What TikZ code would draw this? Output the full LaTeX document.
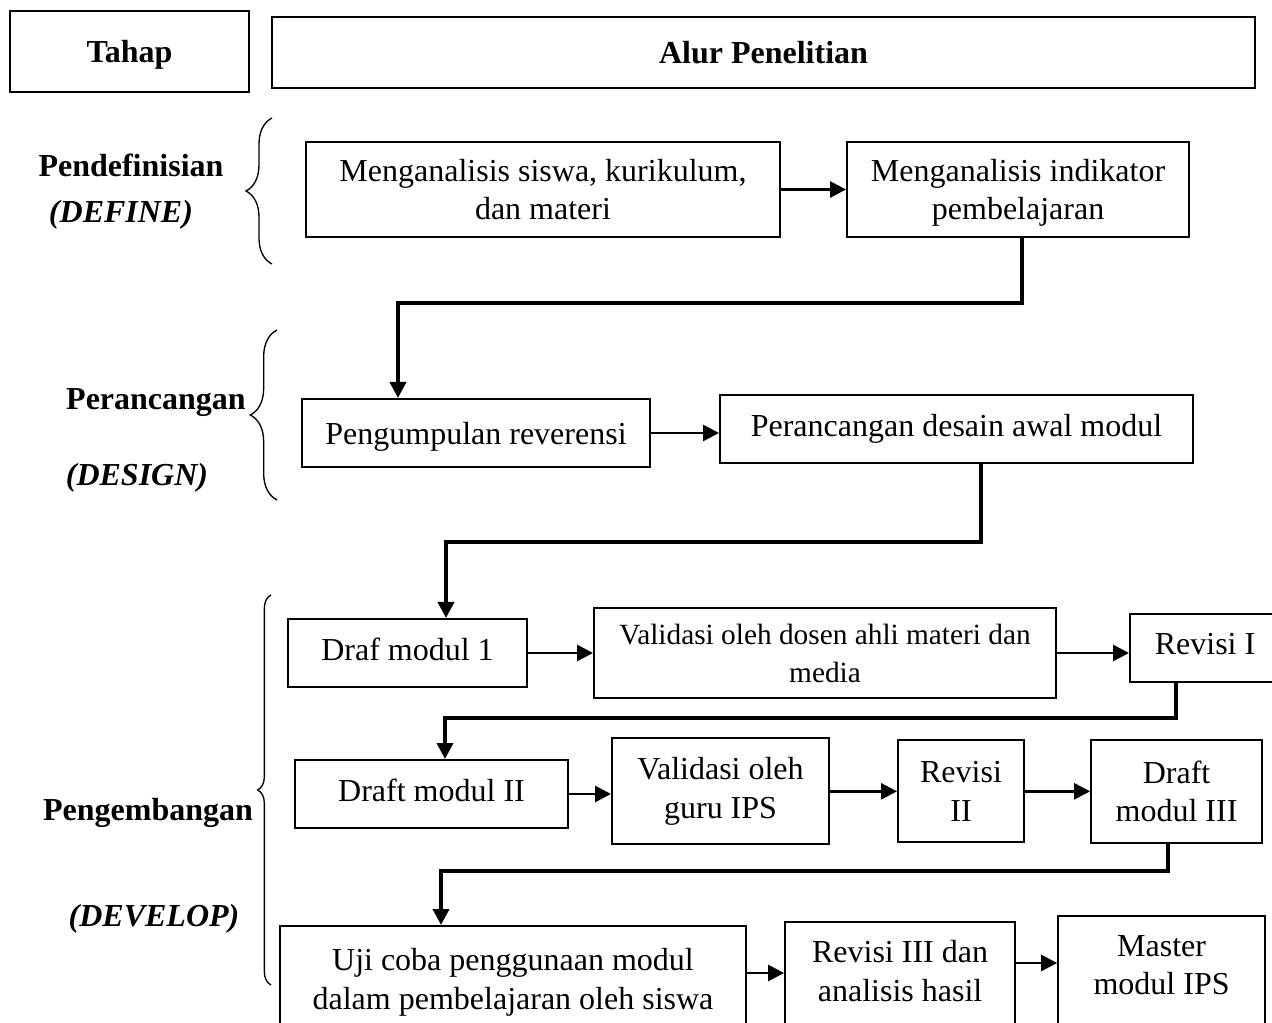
\documentclass[tikz,border=0pt]{standalone}
\usepackage{fontspec}
\setmainfont{Liberation Serif}
\usetikzlibrary{positioning,arrows.meta,calc,decorations.pathreplacing}

\begin{document}
\begin{tikzpicture}[
    x=0.375pt,y=-0.375pt,
    font=\fontsize{12}{14.5}\selectfont,
    box/.style={draw,line width=0.75pt,align=center,inner sep=2pt,text depth=0pt},
    lift/.style={text depth=2.7pt},
    head/.style={box,font=\fontsize{12}{14.5}\selectfont\bfseries},
    phase/.style={font=\fontsize{12}{14.5}\selectfont\bfseries,align=center},
    flow/.style={-{Triangle[length=6pt,width=6pt]},line width=1pt},
    elbow/.style={-{Triangle[length=6pt,width=6pt]},line width=1.4pt},
    brc/.style={decorate,decoration={brace,amplitude=#1},line width=0.5pt},
    brc/.default=9.75pt,
]
\useasboundingbox (0,0) rectangle (1272,1023);
\clip (0,0) rectangle (1272,1023);

% --- header ---
\node[head,minimum width=89.6pt,minimum height=30.4pt] (tahap) at (129.5,51.5) {Tahap};
\node[head,minimum width=368.6pt,minimum height=26.6pt] (alur) at (763.5,52.5) {Alur Penelitian};

% --- define ---
\node[box,minimum width=177.75pt,minimum height=35.6pt] (an1) at (543,189.5) {Menganalisis siswa, kurikulum,\\dan materi};
\node[box,minimum width=128.25pt,minimum height=35.6pt,right=24.4pt of an1] (an2) {Menganalisis indikator\\pembelajaran};

% --- design ---
\node[box,minimum width=130.5pt,minimum height=25.5pt] (ref) at (476,433) {Pengumpulan reverensi};
\node[box,lift,minimum width=177.4pt,minimum height=25.5pt,right=25.5pt of ref,yshift=1.5pt] (des) {Perancangan desain awal modul};

% --- develop ---
\node[box,lift,minimum width=89.6pt,minimum height=25.5pt] (dm1) at (407.5,653) {Draf modul 1};
\node[box,minimum width=173.25pt,minimum height=33.4pt,right=24.4pt of dm1,text depth=-3pt,
      font=\fontsize{11}{14.3}\selectfont] (val1) {Validasi oleh dosen ahli materi dan\\media};
\node[box,lift,minimum width=56.25pt,minimum height=25.5pt,right=27pt of val1,yshift=2pt] (rev1) {Revisi I};

\node[box,lift,minimum width=102.4pt,minimum height=25.5pt] (dm2) at (431.5,794) {Draft modul II};
\node[box,lift,minimum width=81.4pt,minimum height=39.75pt,right=15.75pt of dm2,yshift=1pt] (val2) {Validasi oleh\\guru IPS};
\node[box,minimum width=47.25pt,minimum height=38.25pt,right=25.1pt of val2] (rev2) {Revisi\\II};
\node[box,minimum width=64.1pt,minimum height=38.6pt,right=24.4pt of rev2] (dm3) {Draft\\modul III};

\node[box,minimum width=174.75pt,minimum height=39.75pt] (uji) at (513,979) {Uji coba penggunaan modul\\dalam pembelajaran oleh siswa};
\node[box,minimum width=86.25pt,minimum height=42.75pt,text depth=6pt,right=13.9pt of uji] (rev3) {Revisi III dan\\analisis hasil};
\node[box,minimum width=77.6pt,minimum height=45pt,text depth=8.25pt,right=15.4pt of rev3,yshift=1.1pt] (mst) {Master\\modul IPS};

% phase labels
\node[phase] (p1)  at (131,165) {Pendefinisian};
\node[phase] (p1e) at (121,215) {\itshape(DEFINE)};
\node[phase] (p2)  at (156,403) {Perancangan};
\node[phase] (p2e) at (137,478) {\itshape(DESIGN)};
\node[phase] (p3)  at (148,813) {Pengembangan};
\node[phase] (p3e) at (154,919) {\itshape(DEVELOP)};

% braces
\draw[brc] (272,264) -- (272,118);
\draw[brc=10pt] (277,500) -- (277,330);
\draw[brc=5pt] (271,985) -- (271,595);

% straight arrows
\draw[flow] (an1) -- (an2);
\draw[flow] (ref) -- (ref -| des.west);
\draw[flow] (dm1) -- (dm1 -| val1.west);
\draw[flow] (val1.east) -- (val1.east -| rev1.west);
\draw[flow] (dm2) -- (dm2 -| val2.west);
\draw[flow] (val2.east) -- (val2.east -| rev2.west);
\draw[flow] (rev2) -- (dm3);
\draw[flow] ([yshift=2.25pt]uji.east) -- ([yshift=2.25pt]uji.east -| rev3.west);
\draw[flow] ([yshift=6pt]rev3.east) -- ([yshift=6pt]rev3.east -| mst.west);

% row to row
\coordinate (j1) at (398,303);
\coordinate (j2) at (446,542);
\coordinate (j3) at (445,718);
\coordinate (j4) at (441,871);
\draw[elbow] ([xshift=1.5pt]an2.south) |- (j1) -- (j1 |- ref.north);
\draw[elbow] ([xshift=9.2pt]des.south) |- (j2) -- (j2 |- dm1.north);
\draw[elbow] ([xshift=-10.9pt]rev1.south) |- (j3) -- (j3 |- dm2.north);
\draw[elbow] ([xshift=-3.2pt]dm3.south) |- (j4) -- (j4 |- uji.north);
\end{tikzpicture}
\end{document}
